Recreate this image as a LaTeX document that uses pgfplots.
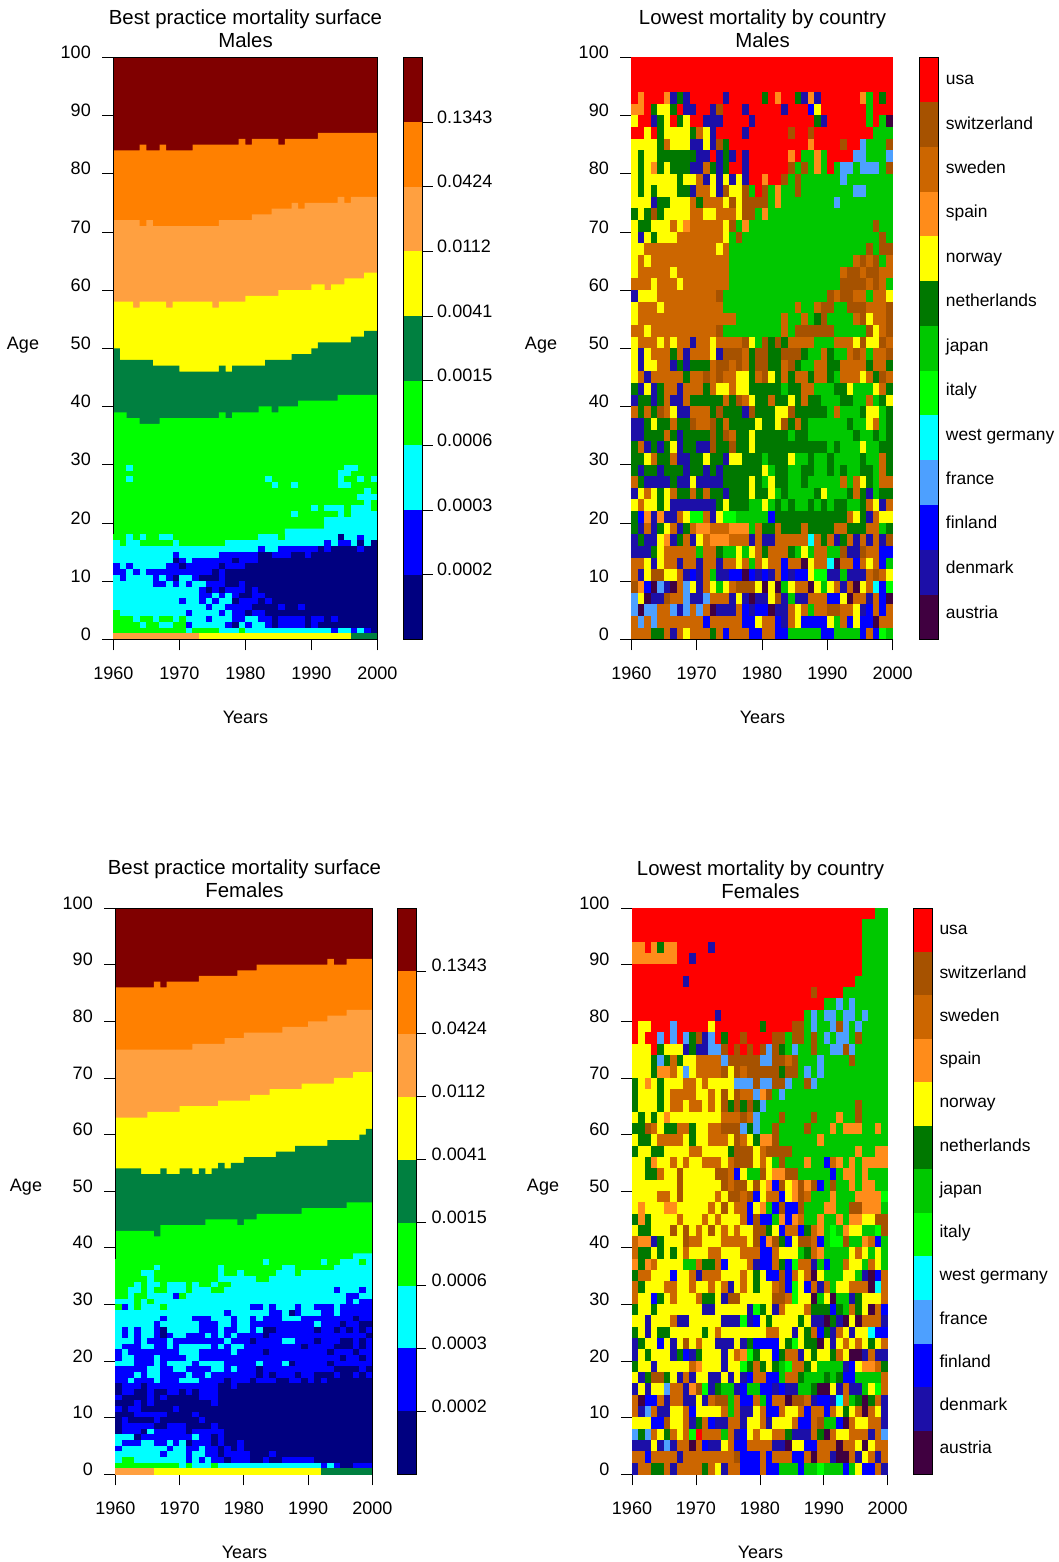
\documentclass[border=0pt]{standalone}
\usepackage{fontspec}
\setmainfont{Liberation Sans}
\usepackage{pgfplots}
\usepackage{pgfplotstable}
\pgfplotsset{compat=1.18}
\newcommand\fs{\fontsize{18}{21}\selectfont}
\newcommand\tfs{\fontsize{20.4}{23}\selectfont}
\newcommand\lfs{\fontsize{17.4}{20}\selectfont}
% left-panel colours
\definecolor{l0}{RGB}{0,0,128}\definecolor{l1}{RGB}{0,0,255}\definecolor{l2}{RGB}{0,255,255}
\definecolor{l3}{RGB}{0,255,0}\definecolor{l4}{RGB}{0,128,64}\definecolor{l5}{RGB}{255,255,0}
\definecolor{l6}{RGB}{255,160,64}\definecolor{l7}{RGB}{255,128,0}\definecolor{l8}{RGB}{128,0,0}
% country colours
\definecolor{usa}{RGB}{255,0,0}\definecolor{swi}{RGB}{166,82,0}\definecolor{swe}{RGB}{204,102,0}
\definecolor{spa}{RGB}{255,140,26}\definecolor{nor}{RGB}{255,255,0}\definecolor{net}{RGB}{0,120,0}
\definecolor{jap}{RGB}{0,200,0}\definecolor{ita}{RGB}{0,255,0}\definecolor{wge}{RGB}{0,255,255}
\definecolor{fra}{RGB}{77,160,255}\definecolor{fin}{RGB}{0,0,255}\definecolor{den}{RGB}{28,15,168}
\definecolor{aut}{RGB}{64,0,64}
\pgfdeclareplotmark{cellR}{\pgfpathrectangle{\pgfqpoint{-3.45pt}{-5.95pt}}{\pgfqpoint{6.9pt}{11.9pt}}\pgfusepathqfill}
\pgfdeclareplotmark{cellL}{\pgfpathrectangle{\pgfqpoint{-3.4pt}{-3.05pt}}{\pgfqpoint{6.8pt}{6.1pt}}\pgfusepathqfill}
\pgfplotsset{
 heat/.style={scale only axis,axis on top,xmin=1960,xmax=2000,ymin=0,ymax=100,
  xtick={1960,1970,1980,1990,2000},xticklabels={1960,1970,1980,1990,2000},
  ytick={0,10,...,100},yticklabels={0,10,20,30,40,50,60,70,80,90,100},
  tick align=outside,major tick length=11pt,xtick pos=bottom,ytick pos=left,
  tick style={black,line width=0.7pt},axis line style={black,line width=0.8pt},
  tick label style={font=\fs},
  xticklabel style={yshift=-13pt},yticklabel style={xshift=-8pt,yshift=5pt}},
 bar/.style={scale only axis,axis on top,xmin=0,xmax=1,xtick=\empty,
  tick align=outside,major tick length=10pt,ytick pos=right,yticklabel pos=right,
  tick style={black,line width=0.7pt},axis line style={black,line width=0.8pt},
  tick label style={font=\fs}},
 cbar/.style={major tick length=0pt,
  ytick={0.63,1.62,2.62,3.61,4.6,5.6,6.59,7.58,8.57,9.57,10.56,11.55,12.55},
  yticklabels={austria,denmark,finland,france,west germany,italy,japan,netherlands,norway,spain,sweden,switzerland,usa},
  yticklabel style={font=\lfs,xshift=4pt,yshift=-2.5pt,text height=13pt,text depth=4pt}},
 rcols/.style={scatter/classes={0={fill=usa},1={fill=jap},2={fill=net},3={fill=nor},4={fill=swe},5={fill=swi},6={fill=spa},7={fill=fra},8={fill=fin},9={fill=den},10={fill=ita},11={fill=wge},12={fill=aut}}},
 lcols/.style={scatter/classes={0={fill=l0},1={fill=l1},2={fill=l2},3={fill=l3},4={fill=l4},5={fill=l5},6={fill=l6}}},
}
\newcommand\cells[5]{\pgfplotsinvokeforeach{0,...,39}{%
 \addplot[scatter,only marks,mark=#4,scatter src=explicit symbolic,#5]
  table[x expr={1960.5+##1},y expr={#2-#3*\coordindex},meta index=##1]{#1};}}
\newcommand\band[3]{\addplot[fill=#1,draw=none] coordinates {(0,#2)(1,#2)(1,#3)(0,#3)} -- cycle;}
\newcommand\layers[1]{%
 \addplot[fill=l8,draw=none] coordinates {(1960,100)(2000,100)} \closedcycle;
 \addplot[const plot mark left,fill=l7,draw=none] table[x=x,y=a]{#1} \closedcycle;
 \addplot[const plot mark left,fill=l6,draw=none] table[x=x,y=b]{#1} \closedcycle;
 \addplot[const plot mark left,fill=l5,draw=none] table[x=x,y=c]{#1} \closedcycle;
 \addplot[const plot mark left,fill=l4,draw=none] table[x=x,y=d]{#1} \closedcycle;
 \addplot[const plot mark left,fill=l3,draw=none] table[x=x,y=e]{#1} \closedcycle;
 \addplot[const plot mark left,fill=l2,draw=none] table[x=x,y=f]{#1} \closedcycle;}
\pgfplotstableread{
x a b c d e f
1960 84 72 58 50 39 18
1961 84 72 58 48 39 18
1962 84 72 58 48 38 18
1963 84 72 57 48 38 18
1964 85 71 58 48 37 18
1965 84 72 58 48 37 18
1966 84 71 58 47 37 18
1967 85 71 58 47 38 18
1968 84 71 57 47 38 18
1969 84 71 58 47 38 18
1970 84 71 58 46 38 18
1971 84 71 58 46 38 18
1972 85 71 58 46 38 18
1973 85 71 58 46 38 18
1974 85 71 58 46 38 18
1975 85 71 57 46 38 18
1976 85 72 58 47 39 18
1977 85 72 58 46 38 18
1978 85 72 58 47 39 18
1979 86 72 58 47 39 18
1980 85 72 59 47 39 18
1981 86 73 59 47 39 18
1982 86 73 59 47 40 18
1983 86 73 59 48 40 18
1984 86 74 59 48 39 18
1985 85 74 60 48 40 18
1986 86 74 60 48 40 19
1987 86 75 60 49 40 19
1988 86 74 60 49 41 19
1989 86 75 60 49 41 19
1990 86 75 61 50 41 19
1991 87 75 61 51 41 19
1992 87 75 60 51 41 19
1993 87 75 61 51 41 20
1994 87 76 61 51 42 21
1995 87 75 62 51 42 21
1996 87 76 62 52 42 21
1997 87 76 62 52 42 21
1998 87 76 63 53 42 22
1999 87 76 63 53 42 22
2000 87 76 63 53 42 22
}\layM
\pgfplotstableread{
x a b c d e f
1960 86 75 63 54 43 38
1961 86 75 63 54 43 38
1962 86 75 63 54 43 38
1963 86 75 63 54 43 38
1964 86 75 63 53 43 38
1965 86 75 64 53 43 38
1966 87 75 64 53 42 38
1967 86 75 64 54 44 38
1968 87 75 64 53 44 38
1969 87 75 64 53 44 38
1970 87 75 65 54 44 38
1971 87 75 65 54 44 38
1972 87 76 65 53 44 38
1973 88 76 65 54 44 38
1974 88 76 65 53 45 38
1975 88 76 65 54 45 38
1976 88 76 66 55 45 38
1977 88 77 66 54 45 38
1978 88 77 66 55 45 38
1979 89 77 66 55 44 38
1980 89 78 66 56 45 38
1981 89 78 67 56 45 38
1982 90 78 67 56 46 38
1983 90 78 67 56 46 38
1984 90 78 68 56 46 38
1985 90 78 68 57 46 38
1986 90 79 68 57 46 38
1987 90 79 68 57 46 38
1988 90 79 68 58 46 38
1989 90 79 69 58 47 38
1990 90 80 69 58 47 38
1991 90 80 69 58 47 38
1992 90 80 69 58 47 38
1993 91 81 69 59 47 38
1994 90 81 70 59 47 38
1995 90 81 70 59 47 38
1996 91 82 70 59 48 38
1997 91 82 71 59 48 39
1998 91 82 71 60 48 39
1999 91 82 71 61 48 39
2000 91 82 71 61 48 39
}\layF
\pgfplotstableread[header=false]{
3 3 2 3 2 3 3 2 2 3  3 3 3 3 3 3 3 3 3 3  3 3 2 2 2 3 2 2 2 2  2 2 2 2 0 2 2 1 2 2
2 3 2 2 3 3 3 3 3 2  3 3 3 3 3 3 3 2 2 2  2 2 2 2 2 2 2 2 2 2  2 2 1 2 1 1 2 0 2 0
2 2 2 2 2 2 2 2 2 2  2 2 2 2 2 2 2 2 2 2  2 2 1 2 2 1 1 1 1 1  1 0 1 0 0 0 0 1 0 0
2 2 2 2 2 2 2 2 2 1  2 2 2 2 2 2 1 1 1 1  1 1 0 0 1 1 1 0 0 1  0 0 0 0 0 0 0 0 0 0
2 2 2 2 2 2 2 2 2 0  1 2 1 1 1 1 1 1 0 1  1 1 0 0 0 0 0 0 0 0  0 0 0 0 0 0 0 0 0 0
1 2 1 2 2 2 2 2 1 1  0 1 1 1 1 1 0 1 1 1  0 0 0 0 0 0 0 0 0 0  0 0 0 0 0 0 0 0 0 0
1 1 2 1 2 1 1 1 1 1  1 1 1 1 1 0 1 0 0 0  0 0 0 0 0 0 0 0 0 0  0 0 0 0 0 0 0 0 0 0
2 1 2 2 2 2 1 2 1 0  2 2 1 0 0 0 1 0 0 0  0 0 0 0 0 0 0 0 0 0  0 0 0 0 0 0 0 0 0 0
2 2 2 2 2 2 1 1 2 1  2 1 2 2 1 1 1 0 0 1  0 0 0 0 0 0 0 0 0 0  0 0 0 0 0 0 0 0 0 0
2 2 2 2 2 2 2 2 2 2  2 2 2 1 0 1 0 1 1 1  0 1 0 0 0 0 0 0 0 0  0 0 0 0 0 0 0 0 0 0
2 2 2 2 2 2 2 2 2 2  2 2 2 1 1 2 1 2 1 0  0 1 1 0 0 0 0 0 0 0  0 0 0 0 0 0 0 0 0 0
2 2 2 2 2 2 2 2 2 2  1 2 2 1 2 1 2 2 0 1  1 1 0 1 0 0 0 0 0 0  0 0 0 0 0 0 0 0 0 0
2 2 2 2 2 2 2 2 2 2  2 2 2 2 1 2 2 1 1 1  1 0 0 0 0 1 0 0 1 0  0 0 0 0 0 0 0 0 0 0
3 2 2 2 2 2 2 2 2 2  2 1 2 2 2 2 1 2 1 1  0 1 1 0 0 0 0 0 0 0  0 0 0 0 0 0 0 0 0 0
3 3 3 2 3 3 2 3 3 2  3 2 2 2 1 2 2 2 1 1  2 2 1 1 0 1 1 1 1 0  1 1 0 1 0 0 0 0 0 0
3 3 3 3 2 3 3 2 2 3  3 1 2 2 2 2 2 1 0 2  1 2 2 1 0 1 1 1 1 0  1 0 0 0 0 0 0 0 0 0
3 3 3 3 3 3 3 3 3 3  3 2 3 3 3 3 2 2 2 3  2 2 2 2 2 2 2 2 2 2  2 2 2 1 2 2 1 2 1 0
6 6 6 6 6 6 6 6 6 6  6 6 6 5 5 5 5 5 5 5  5 5 5 5 5 5 5 5 5 5  5 5 5 5 5 5 4 4 4 4
}\lowM
\pgfplotstableread[header=false]{
3 3 3 3 3 3 3 3 3 3  3 3 3 3 3 3 3 3 3 3  3 3 3 2 3 3 3 3 3 3  3 3 2 3 3 2 2 2 3 2
3 3 3 3 3 3 2 3 3 3  3 3 3 3 3 3 2 3 3 3  3 3 3 3 3 3 2 2 3 3  3 3 3 3 2 2 2 2 2 2
3 3 3 3 2 2 3 3 3 3  3 3 3 3 3 3 2 3 3 2  3 3 3 3 3 2 2 2 3 2  2 2 2 2 2 2 2 2 2 2
3 3 3 3 3 2 3 3 3 3  3 3 3 3 3 3 2 2 2 2  2 2 3 3 2 2 2 2 2 2  2 2 2 2 2 2 2 2 2 2
3 3 3 2 3 2 2 3 2 2  2 3 2 3 3 2 3 3 2 2  2 2 2 2 2 2 2 2 2 2  2 2 2 2 2 2 2 2 2 2
3 3 2 2 3 2 3 3 2 2  2 3 2 2 2 3 3 2 2 2  2 2 2 2 2 2 2 2 2 2  2 2 2 2 1 2 2 2 1 2
3 3 2 3 3 2 2 2 2 1  3 2 2 2 2 2 2 2 2 2  2 2 2 2 2 2 2 2 2 2  2 2 2 2 2 2 1 1 2 2
2 2 2 3 2 3 2 2 2 2  2 2 2 2 2 2 2 2 2 2  2 2 2 2 2 2 2 2 2 2  2 2 2 2 2 2 1 2 1 1
3 1 2 3 2 2 2 3 2 2  2 2 2 2 2 2 2 2 2 2  2 1 1 2 1 2 2 2 1 2  2 1 1 1 2 1 1 1 1 1
2 2 2 2 2 2 2 2 2 2  2 2 2 2 2 2 2 1 2 2  2 2 2 2 1 1 2 0 1 2  2 2 1 1 2 1 1 1 1 1
2 2 2 2 2 2 2 1 2 2  2 2 1 1 1 2 2 2 1 2  2 1 2 1 1 1 2 2 2 1  1 1 1 1 1 1 1 0 1 1
2 2 2 2 2 2 1 2 2 2  2 2 2 1 1 1 2 2 1 2  2 1 1 1 1 1 1 1 1 1  1 2 1 1 1 0 1 1 0 0
2 1 2 1 2 2 1 0 2 2  2 2 2 1 1 1 2 1 1 2  2 1 2 0 0 1 1 1 1 1  1 0 1 1 0 1 0 1 0 1
2 1 2 1 2 2 1 0 1 2  2 1 1 1 2 1 2 1 2 1  1 1 1 0 1 1 1 1 1 1  1 1 1 1 1 1 1 1 1 0
2 2 2 1 2 1 1 1 2 1  1 1 1 1 1 1 1 2 1 1  1 0 1 1 1 1 2 2 1 1  1 0 1 1 1 0 0 1 0 1
2 1 1 1 2 2 1 1 2 1  2 2 2 2 2 1 2 1 2 2  1 1 1 1 1 1 1 1 1 0  1 1 1 1 0 0 0 1 0 1
1 2 1 1 1 1 1 1 1 1  2 2 2 1 1 1 1 1 2 1  1 1 1 0 1 1 1 1 1 1  1 1 1 0 1 1 1 0 1 1
1 2 2 1 1 1 2 1 1 1  1 2 2 1 1 1 1 1 1 1  1 1 1 1 1 1 1 1 1 1  1 1 1 1 1 0 1 1 0 1
2 2 2 1 1 1 2 1 2 2  2 2 1 2 2 2 2 1 1 1  1 1 2 1 1 1 2 0 1 1  1 1 1 0 1 1 1 1 1 1
1 1 1 1 1 2 2 1 1 2  2 1 1 1 1 2 2 1 2 1  1 1 0 1 1 1 1 1 1 1  1 1 1 1 0 0 0 0 1 0
1 1 1 2 1 2 2 1 1 1  1 2 1 1 2 1 1 1 1 1  1 1 0 1 0 1 1 1 0 1  1 0 0 0 1 0 0 1 0 1
1 1 2 1 1 1 2 1 1 1  2 2 2 1 1 1 1 0 1 1  1 0 1 1 1 0 0 1 1 0  1 0 1 0 0 0 0 0 0 0
0 1 1 1 0 1 1 1 1 1  1 1 1 1 1 1 0 0 1 0  0 0 0 0 0 0 0 0 0 0  0 0 0 0 0 0 0 0 0 0
0 1 1 0 0 1 0 0 1 1  0 1 0 1 1 1 0 0 0 0  0 0 0 0 0 0 0 0 0 0  0 0 0 0 0 0 0 0 0 0
1 0 0 0 0 1 0 1 0 0  0 0 0 1 1 1 0 0 0 0  0 0 0 0 0 0 0 0 0 0  0 0 0 0 0 0 0 0 0 0
0 0 0 1 0 1 0 0 0 0  0 0 0 0 0 1 0 0 0 0  0 0 0 0 0 0 0 0 0 0  0 0 0 0 0 0 0 0 0 0
1 0 1 1 0 0 0 0 0 1  0 0 0 0 0 0 0 0 0 0  0 0 0 0 0 0 0 0 0 0  0 0 0 0 0 0 0 0 0 0
0 0 0 1 1 1 1 1 0 0  0 0 1 0 0 0 0 0 0 0  0 0 0 0 0 0 0 0 0 0  0 0 0 0 0 0 0 0 0 0
0 1 0 0 0 0 1 0 0 0  0 0 0 1 0 0 0 0 0 0  0 0 0 0 0 0 0 0 0 0  0 0 0 0 0 0 0 0 0 0
0 1 1 1 1 1 0 0 1 1  1 0 0 0 0 1 0 0 0 0  0 0 0 0 0 0 0 0 0 0  0 0 0 0 0 0 0 0 0 0
0 1 1 1 0 2 1 1 1 1  1 0 1 1 1 1 1 0 0 0  0 0 0 0 0 0 0 0 0 0  0 0 0 0 0 0 0 0 0 0
2 2 2 0 1 1 1 1 1 1  1 1 2 1 1 0 1 0 0 0  0 0 0 0 0 0 0 0 0 0  0 0 0 0 0 0 0 0 0 0
2 1 1 1 2 2 1 1 2 1  2 0 1 1 1 0 1 0 0 1  0 0 0 0 0 0 0 0 0 0  0 0 0 0 0 0 0 0 0 0
1 2 2 2 2 2 2 2 1 2  2 1 1 2 1 1 0 1 0 1  0 0 0 0 0 0 0 0 0 0  0 0 0 0 0 0 0 0 0 0
2 2 2 2 2 2 2 1 2 2  2 1 2 2 1 1 0 1 1 1  1 0 0 0 1 0 0 0 0 0  0 0 0 0 0 0 0 0 0 0
2 3 3 2 2 2 2 2 2 2  2 1 2 1 2 1 1 0 1 1  1 0 0 1 0 0 1 1 1 1  1 0 0 0 0 0 0 0 0 0
3 3 3 3 3 3 3 3 3 3  2 3 2 2 2 3 2 2 2 2  2 2 2 2 2 2 2 2 2 2  2 2 1 2 1 0 0 1 1 1
6 6 6 6 6 6 5 5 5 5  5 5 5 5 5 5 5 5 5 5  5 5 5 5 5 5 5 5 5 5  5 5 4 4 4 4 4 4 4 4
}\lowF
\pgfplotstableread[header=false]{
0 0 0 0 0 0 0 0 0 0  0 0 0 0 0 0 0 0 0 0  0 0 0 0 0 0 0 0 0 0  0 0 0 0 0 0 0 0 0 0
0 0 0 0 0 0 0 0 0 0  0 0 0 0 0 0 0 0 0 0  0 0 0 0 0 0 0 0 0 0  0 0 0 0 0 0 0 0 0 0
0 0 0 0 0 0 0 0 0 0  0 0 0 0 0 0 0 0 0 0  0 0 0 0 0 0 0 0 0 0  0 0 0 0 0 0 0 0 0 0
0 6 0 0 0 6 9 2 9 0  0 0 0 0 9 0 0 0 0 0  2 0 6 0 0 2 9 6 9 0  0 0 0 0 0 6 1 0 2 0
6 6 0 2 3 3 2 0 9 9  0 0 9 5 0 0 0 9 0 0  0 0 0 9 0 0 0 8 3 0  0 0 0 0 0 0 1 0 0 0
3 0 0 9 2 3 0 2 3 0  0 9 9 9 0 0 0 0 9 0  0 0 0 0 0 0 0 0 2 9  0 0 0 0 0 0 1 0 1 12
0 0 3 0 2 3 3 3 3 2  4 3 9 0 0 0 0 9 0 0  0 0 0 0 5 0 0 5 0 0  0 0 0 0 0 0 0 1 1 1
3 3 3 3 2 4 3 3 3 9  9 3 9 5 2 0 0 0 0 0  0 0 0 0 0 0 0 6 0 0  0 0 5 0 0 7 1 1 1 5
3 2 3 3 2 2 2 2 2 2  9 9 0 9 2 9 0 9 0 0  0 0 0 0 6 0 1 1 6 1  0 0 0 0 7 7 1 1 1 7
3 2 3 6 2 3 2 2 2 9  9 4 2 9 2 0 0 9 0 0  0 0 0 0 5 1 5 1 6 1  0 1 7 7 1 7 7 7 1 5
3 2 3 3 3 3 3 2 3 3  4 9 3 9 3 9 3 9 0 0  6 0 0 5 1 5 1 1 1 1  1 1 7 1 1 1 1 1 1 1
3 2 3 2 3 3 3 2 2 9  4 4 3 9 5 3 3 5 1 0  5 1 6 1 1 5 1 1 1 1  1 1 1 1 7 7 1 1 1 1
3 3 3 9 2 2 3 3 3 4  2 4 4 4 3 5 3 5 5 5  5 1 6 1 1 1 1 1 1 1  1 7 1 1 1 1 1 1 1 1
2 3 2 5 2 3 3 3 3 4  4 3 3 4 4 4 3 5 5 1  6 1 1 1 1 1 1 1 1 1  1 1 1 1 1 1 1 1 1 1
3 2 2 3 3 3 4 3 6 4  4 4 4 4 3 5 1 6 1 1  1 1 1 1 1 1 1 1 1 1  1 1 1 1 1 1 1 5 1 1
3 9 3 2 3 3 3 4 4 4  4 4 4 4 3 1 5 1 1 1  1 1 1 1 1 1 1 1 1 1  1 1 1 1 1 1 1 1 5 1
3 3 4 4 4 4 4 4 4 4  4 4 4 3 4 1 1 1 1 1  1 1 1 1 1 1 1 1 1 1  1 1 1 1 1 1 5 1 5 5
3 4 3 4 4 4 4 4 4 4  4 4 4 4 4 1 1 1 1 1  1 1 1 1 1 1 1 1 1 1  1 1 1 1 4 5 4 5 1 4
3 4 4 4 4 4 3 4 4 4  4 4 4 4 4 1 1 1 1 1  1 1 1 1 1 1 1 1 1 1  1 1 4 5 5 4 5 5 4 4
4 4 4 3 4 4 4 3 4 4  4 4 4 4 4 1 1 1 1 1  1 1 1 1 1 1 1 1 1 1  1 1 5 5 5 5 4 5 4 1
9 3 3 3 4 4 4 4 4 4  4 4 4 5 1 1 1 1 1 1  1 1 1 1 1 1 1 1 1 1  5 4 5 5 4 4 1 4 4 3
3 4 4 4 3 4 4 4 4 4  4 4 4 4 1 1 1 1 1 1  1 1 1 1 1 4 1 1 4 5  5 1 1 5 5 5 4 4 4 5
3 4 4 4 4 4 4 4 4 4  4 4 4 4 4 4 1 1 1 1  1 1 1 4 1 1 4 1 2 5  1 1 1 1 4 5 3 4 4 5
4 4 3 4 4 4 4 4 4 4  4 4 4 5 1 1 1 1 1 1  1 1 1 4 1 5 5 5 5 5  5 1 1 1 1 1 5 3 4 5
3 4 4 4 3 4 3 4 4 9  4 4 3 4 4 4 4 5 3 1  5 2 5 2 4 4 4 4 1 1  1 4 4 4 3 5 3 3 5 4
3 9 3 4 4 4 2 4 9 4  4 4 3 9 5 5 5 4 2 5  5 2 2 5 5 5 2 1 1 4  2 1 1 4 5 4 1 4 4 5
3 9 3 3 4 4 9 2 9 2  2 2 4 5 5 4 5 4 2 5  5 2 2 4 5 2 1 1 4 4  2 2 4 4 4 4 2 4 4 2
3 4 9 4 4 4 4 4 2 4  4 5 4 5 4 4 3 3 2 4  5 3 2 4 2 4 4 2 4 4  2 1 4 4 4 3 4 2 5 4
2 9 3 9 2 4 4 9 4 4  4 2 4 3 3 4 3 3 2 2  2 2 2 1 2 2 4 4 1 1  1 2 2 3 1 1 1 3 4 2
9 2 2 9 2 4 9 9 4 2  2 2 2 2 4 2 5 4 3 2  2 4 2 2 3 2 4 2 2 1  1 1 2 2 1 1 4 1 2 3
4 2 4 2 5 4 3 9 9 4  4 4 2 5 2 2 2 9 5 2  2 2 3 3 5 2 2 2 2 2  1 4 1 1 1 2 3 3 1 2
9 9 2 3 2 2 4 2 2 5  4 4 5 2 4 2 2 2 2 3  2 2 3 5 2 4 2 1 1 1  1 1 1 2 1 1 3 4 1 2
9 9 2 2 2 4 2 9 2 2  2 2 5 2 5 4 2 2 3 2  2 2 2 2 1 2 2 1 1 1  1 1 1 1 2 1 1 2 1 2
2 4 9 2 9 2 3 9 2 2  9 9 5 2 2 5 2 2 3 2  2 2 2 2 2 2 2 2 2 2  1 2 1 1 1 3 1 1 2 2
2 2 3 4 2 2 4 9 9 2  2 3 2 2 9 3 3 2 2 2  1 2 2 2 3 1 1 2 1 1  2 1 1 1 1 2 1 1 4 2
2 9 2 2 9 2 2 2 9 2  2 9 2 9 2 2 2 2 2 2  3 1 2 2 1 1 2 2 1 1  2 1 2 1 1 2 2 1 4 2
4 2 9 9 9 9 2 9 9 3  9 9 9 9 2 2 2 2 3 2  1 3 2 2 1 1 2 1 1 1  1 1 4 1 4 3 2 1 4 4
9 3 4 3 2 3 4 2 2 4  2 4 2 2 9 2 2 2 3 2  2 3 1 2 1 1 1 1 2 3  1 1 1 2 4 2 9 1 2 2
3 4 3 3 2 3 9 9 9 9  9 9 9 2 3 2 2 2 1 1  3 1 2 1 2 1 1 2 1 2  1 2 2 1 1 2 4 3 9 4
2 8 6 9 6 9 9 4 3 10  10 4 9 3 10 10 1 1 1 1  1 8 2 2 2 2 2 2 2 2  2 2 2 4 3 2 9 4 3 3
2 9 4 9 2 3 4 9 2 4  6 6 4 4 4 6 6 6 1 4  2 2 4 2 2 2 4 2 2 2  2 4 4 2 2 2 4 4 1 2
9 2 9 9 3 6 9 2 4 9  3 4 6 6 6 4 4 4 9 4  9 9 4 4 4 4 4 11 4 2  4 9 2 4 9 4 9 4 9 5
9 9 9 2 3 4 4 4 4 4  1 4 4 2 1 1 3 1 3 4  2 4 4 4 2 1 3 1 4 4  1 1 5 9 9 5 4 4 8 8
4 4 3 9 3 4 4 9 4 4  9 4 4 9 4 4 3 4 1 4  3 4 4 8 4 4 12 3 4 4  11 12 4 4 8 4 3 4 8 1
4 9 3 5 5 3 3 4 9 8  9 4 1 9 9 8 8 12 8 9  8 9 4 8 9 8 8 3 10 10  9 9 1 9 9 9 4 5 4 3
5 6 8 12 7 9 12 4 7 3  9 4 3 1 3 4 5 5 5 3  12 3 12 1 3 4 4 12 3 1  3 4 9 4 12 3 4 11 8 10
7 3 12 9 9 5 4 4 7 9  9 7 4 4 4 9 3 9 12 9  9 3 5 9 1 9 9 4 4 4  8 8 3 12 4 4 9 4 8 12
7 12 7 7 4 4 7 9 7 4  7 4 12 9 9 9 4 8 9 8  8 12 9 9 4 3 4 1 4 4  5 5 4 4 3 9 8 4 8 4
4 7 4 7 4 4 4 4 4 4  4 8 4 4 4 4 4 8 8 3  4 4 8 9 4 3 8 8 8 8  3 1 4 8 3 8 8 12 4 4
4 4 4 2 2 4 9 4 3 4  4 4 2 4 8 4 4 4 8 8  4 4 8 8 1 1 1 1 1 8  8 1 1 1 1 8 4 8 10 1
}\tabM
\pgfplotstableread[header=false]{
0 0 0 0 0 0 0 0 0 0  0 0 0 0 0 0 0 0 0 0  0 0 0 0 0 0 0 0 0 0  0 0 0 0 0 0 0 0 1 1
0 0 0 0 0 0 0 0 0 0  0 0 0 0 0 0 0 0 0 0  0 0 0 0 0 0 0 0 0 0  0 0 0 0 0 0 1 1 1 1
0 0 0 0 0 0 0 0 0 0  0 0 0 0 0 0 0 0 0 0  0 0 0 0 0 0 0 0 0 0  0 0 0 0 0 0 1 1 1 1
6 6 0 6 2 6 6 0 0 0  0 0 9 0 0 0 0 0 0 0  0 0 0 0 0 0 0 0 0 0  0 0 0 0 0 0 1 1 1 1
6 6 6 6 6 6 6 0 0 9  0 0 0 0 0 0 0 0 0 0  0 0 0 0 0 0 0 0 0 0  0 0 0 0 0 0 1 1 1 1
0 0 0 0 0 0 0 0 0 0  0 0 0 0 0 0 0 0 0 0  0 0 0 0 0 0 0 0 0 0  0 0 0 0 0 0 1 1 1 1
0 0 0 0 0 0 0 0 9 0  0 0 0 0 0 0 0 0 0 0  0 0 0 0 0 0 0 0 0 0  0 0 0 0 0 1 1 1 1 1
0 0 0 0 0 0 0 0 0 0  0 0 0 0 0 0 0 0 0 0  0 0 0 0 0 0 0 0 5 0  0 0 0 1 1 1 1 1 1 1
0 0 0 0 0 0 0 0 0 0  0 0 0 0 0 0 0 0 0 0  0 0 0 0 0 0 0 0 0 0  1 1 7 1 7 1 1 1 1 1
0 0 0 0 0 0 0 0 0 0  0 0 0 9 0 0 0 0 0 0  0 0 0 0 0 0 0 1 7 1  7 7 1 7 7 1 7 1 1 1
0 3 3 0 0 0 7 0 0 0  0 0 3 0 0 0 0 0 0 0  2 0 0 0 0 5 5 1 7 1  1 7 5 7 1 7 1 1 1 1
0 3 0 0 7 0 7 0 7 2  5 9 7 0 2 0 0 5 0 0  0 0 5 5 1 5 5 1 5 1  7 1 7 7 1 5 1 1 1 1
3 3 3 0 2 3 3 3 9 2  9 9 7 7 5 0 5 0 5 0  5 7 5 2 1 7 1 1 5 1  1 7 7 5 7 1 1 1 1 1
3 3 3 2 7 2 4 2 3 3  4 4 4 4 7 5 5 5 5 5  7 7 5 5 4 5 1 1 1 7  1 1 1 1 5 1 1 1 1 1
3 3 3 2 6 6 4 3 7 3  4 4 4 4 5 3 5 4 5 5  5 5 5 2 5 5 1 7 1 7  1 1 1 1 1 1 1 1 1 1
2 3 6 3 2 3 3 3 4 4  3 4 3 3 3 3 7 7 7 5  7 7 5 5 7 1 1 5 7 1  1 1 1 1 1 1 1 1 1 1
2 3 3 3 2 3 4 4 4 4  3 3 4 3 5 3 5 4 4 7  6 5 1 7 1 1 1 1 1 1  1 1 1 1 1 1 1 1 1 1
2 3 3 3 2 3 4 4 3 4  4 3 4 3 5 2 5 2 5 2  7 1 1 1 1 1 1 1 1 1  1 1 1 1 1 5 1 1 1 1
3 2 3 2 3 6 3 3 3 3  3 3 3 3 4 4 4 5 4 7  1 1 1 5 1 1 1 1 5 1  1 1 6 1 1 5 1 1 1 1
2 2 5 4 3 2 2 4 4 2  3 3 4 4 5 5 5 7 2 7  1 1 5 1 1 1 1 5 1 1  1 6 1 6 6 6 1 1 6 1
3 2 2 3 4 4 4 4 3 2  3 3 4 4 4 3 5 4 3 2  6 6 5 1 1 1 1 1 1 6  1 1 1 1 1 1 1 1 1 1
2 3 3 2 2 3 3 3 3 4  4 3 3 3 3 2 5 5 5 3  4 5 5 5 5 1 1 1 1 1  1 1 1 1 1 6 1 1 6 6
3 3 2 6 3 3 4 3 4 3  3 4 4 4 3 4 5 5 5 3  4 3 1 5 1 1 1 6 1 1  8 4 6 1 6 1 6 6 6 6
3 3 2 2 4 3 3 5 3 3  3 3 3 5 5 4 8 3 1 1  5 3 6 6 5 5 1 1 1 1  1 8 1 6 6 1 6 1 1 1
3 3 3 3 3 3 3 5 3 3  3 3 3 3 5 4 5 5 3 5  3 6 8 5 3 6 5 6 5 8  1 5 1 1 6 1 6 6 1 1
3 3 3 3 4 4 3 5 3 3  3 3 3 4 3 5 5 4 5 8  3 4 4 8 3 6 5 4 1 1  1 6 1 1 1 6 6 6 6 10
3 6 3 3 3 6 6 3 3 3  3 3 4 3 5 3 4 4 8 3  6 1 8 5 8 8 5 1 1 1  6 6 1 1 5 5 6 6 6 1
2 6 2 3 3 3 3 4 3 3  3 4 3 4 3 3 3 4 8 5  8 8 1 6 8 6 4 1 1 6  1 1 6 1 6 6 3 3 5 5
3 2 2 3 3 3 5 3 5 3  4 3 5 3 4 3 4 3 3 5  5 2 3 8 4 4 8 2 4 6  1 10 1 6 3 3 1 1 10 5
4 6 6 9 2 3 3 3 5 4  4 3 3 3 4 4 4 4 3 5  8 6 5 2 8 3 5 5 4 8  1 10 10 5 1 1 6 4 8 1
4 2 2 3 2 3 2 3 4 3  3 3 4 4 3 3 3 4 4 4  8 8 4 3 3 3 1 2 4 6  1 1 1 1 3 4 3 1 3 1
6 2 6 4 3 3 3 3 1 1  4 2 2 4 8 3 3 3 4 9  8 8 4 2 8 10 4 4 9 1  8 1 1 4 3 3 1 4 3 1
2 4 4 3 3 3 8 3 3 4  9 4 4 4 3 3 3 4 3 2  3 8 8 5 8 4 3 4 12 3  1 1 1 3 3 1 9 12 8 4
4 2 3 3 3 4 4 3 3 4  3 3 4 3 4 9 3 4 3 2  3 3 4 5 8 10 3 8 4 9  4 1 3 3 4 4 4 12 11 4
4 3 3 8 2 3 4 3 3 3  4 2 2 3 9 5 5 3 3 3  3 3 5 5 4 10 3 3 12 1  3 12 1 1 9 2 3 3 3 4
2 3 3 2 3 3 3 3 3 3  3 9 9 3 3 3 3 3 9 10  2 3 9 4 3 3 3 4 2 2  2 8 2 1 4 2 3 12 4 8
3 3 9 3 3 3 4 9 9 3  3 3 3 3 9 9 9 10 9 8  3 2 3 3 3 3 2 3 9 9  12 2 9 12 3 12 4 4 4 9
2 3 9 3 2 2 3 3 3 3  3 2 3 4 3 3 3 3 3 3  3 4 4 3 3 9 3 2 4 8  2 9 4 3 9 3 3 11 8 8
9 2 3 3 8 3 9 3 5 3  4 3 3 9 9 9 3 9 2 8  8 8 8 3 2 10 3 2 2 12  3 9 3 4 3 4 3 2 3 4
9 3 2 3 3 3 9 2 8 9  2 3 3 3 9 3 4 6 10 2  3 3 8 2 4 4 9 3 2 3  3 2 4 3 12 12 9 4 9 9
2 3 3 9 3 3 3 3 3 4  6 3 3 3 9 3 3 10 2 4  2 3 2 1 10 4 4 2 3 1  1 1 1 9 8 3 6 6 4 2
3 9 2 5 5 2 3 9 4 9  3 3 9 9 3 9 3 9 8 4  4 8 8 1 4 4 2 1 1 1  2 1 2 8 8 1 1 1 1 4
9 3 9 3 3 7 4 4 9 6  5 10 9 2 1 1 9 8 1 1  8 8 9 8 9 9 1 1 2 12  12 3 9 4 9 9 1 3 10 4
4 12 8 8 4 9 4 4 9 9  3 9 4 5 5 1 4 8 8 4  1 8 4 4 12 5 5 4 9 8  8 9 11 4 1 2 12 2 4 9
4 9 7 4 9 9 3 3 4 8  3 3 3 3 4 1 4 9 9 3  4 8 8 4 3 3 4 8 4 4  8 4 3 2 3 4 12 4 3 9
3 3 3 8 8 5 3 3 4 9  2 4 8 9 9 4 4 9 3 3  4 9 3 3 3 4 8 8 4 5  1 1 8 12 4 3 3 4 4 9
7 2 7 4 3 2 4 3 4 10  0 4 4 4 1 4 9 8 3 4  3 3 4 4 2 9 9 9 4 2  12 4 3 3 4 4 4 9 4 7
9 9 9 3 9 7 9 4 4 12  4 8 9 9 3 4 8 8 4 4  4 4 9 9 12 3 3 8 8 4  4 4 12 4 4 3 12 3 4 4
4 4 8 4 4 4 4 9 4 4  4 4 4 4 4 4 5 8 8 8  4 8 4 4 4 8 8 4 12 4  4 9 12 12 4 9 3 4 9 4
9 4 4 2 2 4 9 4 4 4  4 2 4 3 9 4 4 8 8 8  4 8 8 1 1 1 8 1 1 10  1 1 1 8 1 3 8 8 4 9
}\tabF
\begin{document}
\begin{tikzpicture}[x=1pt,y=1pt]
\useasboundingbox (0,0) rectangle (1058,1562);
% ---------- left, males
\begin{axis}[heat,width=264pt,height=582pt,at={(113.3pt,922.7pt)},anchor=south west]
\layers{\layM}
\cells{\lowM}{17.5}{1}{cellL}{lcols}
\addplot[only marks,mark=cellL,color=l2,mark options={fill=l2}] coordinates {
(1993.5,18.5)(1995.5,18.5)(1996.5,18.5)(1997.5,18.5)(1999.5,18.5)
(1992.5,19.5)(1995.5,19.5)(1996.5,19.5)(1997.5,19.5)(1998.5,19.5)(1999.5,19.5)
(1992.5,20.5)(1993.5,20.5)(1994.5,20.5)(1995.5,20.5)(1997.5,20.5)(1998.5,20.5)(1999.5,20.5)
(1987.5,21.5)(1994.5,21.5)(1996.5,21.5)(1997.5,21.5)(1998.5,21.5)
(1990.5,22.5)(1992.5,22.5)(1993.5,22.5)(1994.5,22.5)(1996.5,22.5)(1997.5,22.5)(1998.5,22.5)
(1998.5,23.5)(1997.5,24.5)(1998.5,24.5)(1999.5,24.5)(1998.5,25.5)
(1987.5,26.5)(1994.5,26.5)(1995.5,26.5)(1984.5,26.5)
(1983.5,27.5)(1994.5,27.5)(1997.5,27.5)(1999.5,27.5)(1962.5,27.5)
(1994.5,28.5)(1995.5,28.5)(1962.5,29.5)(1995.5,29.5)(1996.5,29.5)};
\end{axis}
\begin{axis}[bar,width=19.4pt,height=582pt,at={(403.3pt,922.7pt)},anchor=south west,ymin=0,ymax=9,
 ytick={1,...,8},yticklabels={0.0002,0.0003,0.0006,0.0015,0.0041,0.0112,0.0424,0.1343},
 yticklabel style={yshift=5pt,xshift=1pt}]
\band{l0}{0}{1}\band{l1}{1}{2}\band{l2}{2}{3}\band{l3}{3}{4}\band{l4}{4}{5}\band{l5}{5}{6}\band{l6}{6}{7}\band{l7}{7}{8}\band{l8}{8}{9}
\end{axis}
% ---------- right, males
\begin{axis}[heat,width=261.4pt,height=582pt,at={(631.3pt,922.7pt)},anchor=south west]
\cells{\tabM}{99}{2}{cellR}{rcols}
\end{axis}
\begin{axis}[bar,cbar,width=19.4pt,height=582pt,at={(919pt,922.7pt)},anchor=south west,ymin=0,ymax=13]
\band{aut}{0}{1}\band{den}{1}{2}\band{fin}{2}{3}\band{fra}{3}{4}\band{wge}{4}{5}\band{ita}{5}{6}\band{jap}{6}{7}\band{net}{7}{8}\band{nor}{8}{9}\band{spa}{9}{10}\band{swe}{10}{11}\band{swi}{11}{12}\band{usa}{12}{13}
\end{axis}
% ---------- left, females
\begin{axis}[heat,width=257pt,height=566.3pt,at={(115.3pt,87.7pt)},anchor=south west]
\layers{\layF}
\cells{\lowF}{37.5}{1}{cellL}{lcols}
\end{axis}
\begin{axis}[bar,width=18.5pt,height=566.3pt,at={(397.7pt,87.7pt)},anchor=south west,ymin=0,ymax=9,
 ytick={1,...,8},yticklabels={0.0002,0.0003,0.0006,0.0015,0.0041,0.0112,0.0424,0.1343},
 yticklabel style={yshift=5.5pt,xshift=2pt}]
\band{l0}{0}{1}\band{l1}{1}{2}\band{l2}{2}{3}\band{l3}{3}{4}\band{l4}{4}{5}\band{l5}{5}{6}\band{l6}{6}{7}\band{l7}{7}{8}\band{l8}{8}{9}
\end{axis}
% ---------- right, females
\begin{axis}[heat,width=255.7pt,height=566.3pt,at={(632pt,87.7pt)},anchor=south west]
\cells{\tabF}{99}{2}{cellR}{rcols}
\end{axis}
\begin{axis}[bar,cbar,width=19pt,height=566.3pt,at={(913pt,87.7pt)},anchor=south west,ymin=0,ymax=13]
\band{aut}{0}{1}\band{den}{1}{2}\band{fin}{2}{3}\band{fra}{3}{4}\band{wge}{4}{5}\band{ita}{5}{6}\band{jap}{6}{7}\band{net}{7}{8}\band{nor}{8}{9}\band{spa}{9}{10}\band{swe}{10}{11}\band{swi}{11}{12}\band{usa}{12}{13}
\end{axis}
% ---------- texts
\tikzset{t/.style={font=\fs,inner sep=0pt,anchor=center},tt/.style={font=\tfs,inner sep=0pt,anchor=center}}
\node[tt] at (245.5,1543) {Best practice mortality surface};
\node[tt] at (245.5,1522) {Males};
\node[tt] at (762.5,1543) {Lowest mortality by country};
\node[tt] at (762.5,1522) {Males};
\node[tt] at (244.5,693) {Best practice mortality surface};
\node[tt] at (244.5,672) {Females};
\node[tt] at (760.5,692) {Lowest mortality by country};
\node[tt] at (760.5,671) {Females};
\node[t] at (23,1217) {Age};
\node[t] at (541,1217) {Age};
\node[t] at (26,375) {Age};
\node[t] at (543,375) {Age};
\node[t] at (245.5,844.5) {Years};
\node[t] at (762.5,844.5) {Years};
\node[t] at (244.5,10) {Years};
\node[t] at (760.5,10) {Years};
\end{tikzpicture}
\end{document}
